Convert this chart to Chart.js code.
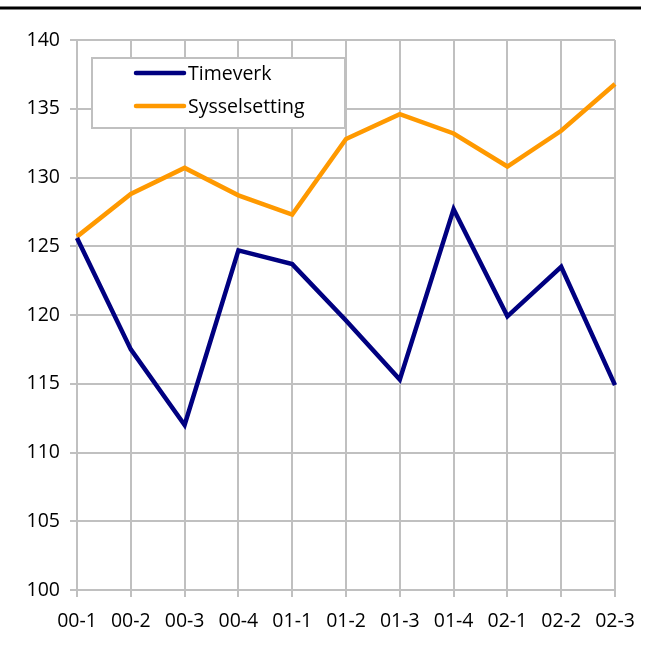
<!DOCTYPE html>
<html><head><meta charset="utf-8">
<script src="https://cdn.jsdelivr.net/npm/chart.js@4/dist/chart.umd.min.js"></script>
<style>html,body{margin:0;padding:0;background:#fff}#wrap{width:656px;height:648px}</style>
</head><body><div id="wrap"><canvas id="c" width="656" height="648"></canvas></div>
<script>
const categories = ["00-1","00-2","00-3","00-4","01-1","01-2","01-3","01-4","02-1","02-2","02-3"];
const timeverk = [125.6,117.5,112.0,124.7,123.7,119.6,115.3,127.7,119.9,123.5,114.9];
const sysselsetting = [125.7,128.8,130.7,128.7,127.3,132.8,134.6,133.2,130.8,133.4,136.8];
const seriesNames = ["Timeverk","Sysselsetting"];
const yTicks = [100,105,110,115,120,125,130,135,140];
const FONT = "'Open Sans', 'Noto Sans', sans-serif";
const FS = 19.5;

const extras = {
  id:'extras',
  beforeDraw(chart){
    const ctx = chart.ctx;
    ctx.save();
    ctx.fillStyle = '#fff';
    ctx.fillRect(0,0,chart.width,chart.height);
    ctx.strokeStyle = '#000'; ctx.lineWidth = 3;
    ctx.beginPath(); ctx.moveTo(0,8); ctx.lineTo(641,8); ctx.stroke();
    ctx.restore();
  },
  afterDraw(chart){
    const ctx = chart.ctx;
    ctx.save();
    const x0 = 92, y0 = 58, w = 253, h = 70;
    ctx.fillStyle = '#fff'; ctx.fillRect(x0,y0,w,h);
    ctx.strokeStyle = '#c0c0c0'; ctx.lineWidth = 2; ctx.strokeRect(x0,y0,w,h);
    chart.data.datasets.forEach((ds,i)=>{
      const y = 73 + i*33;
      ctx.strokeStyle = ds.borderColor; ctx.lineWidth = 4.5; ctx.lineCap='round';
      ctx.beginPath(); ctx.moveTo(136,y); ctx.lineTo(184,y); ctx.stroke();
      ctx.fillStyle = '#000'; ctx.font = FS + 'px ' + FONT; ctx.textBaseline='middle'; ctx.textAlign='left';
      ctx.fillText(ds.label, 188, y+1);
    });
    ctx.restore();
  }
};

new Chart(document.getElementById('c'), {
  type:'line',
  data:{
    labels: categories,
    datasets:[
      {label: seriesNames[0], data: timeverk, borderColor:'#000080', backgroundColor:'#000080', borderWidth:4.5, pointRadius:0, tension:0, borderJoinStyle:'miter'},
      {label: seriesNames[1], data: sysselsetting, borderColor:'#FF9900', backgroundColor:'#FF9900', borderWidth:4.5, pointRadius:0, tension:0, borderJoinStyle:'miter'}
    ]
  },
  options:{
    responsive:false, animation:false, devicePixelRatio:1,
    layout:{padding:{left:0, top:40, right:41, bottom:0}},
    plugins:{legend:{display:false}, tooltip:{enabled:false}},
    scales:{
      x:{
        offset:false,
        grid:{color:'#c0c0c0', lineWidth:2, tickLength:7, drawTicks:true},
        border:{color:'#c0c0c0', width:2},
        ticks:{color:'#000', font:{family:FONT, size:FS}, padding:13, maxRotation:0, autoSkip:false},
        afterFit(s){ s.height = 58; }
      },
      y:{
        min:100, max:140,
        afterBuildTicks(s){ s.ticks = yTicks.map(v=>({value:v})); },
        grid:{color:'#c0c0c0', lineWidth:2, tickLength:7},
        border:{color:'#c0c0c0', width:2},
        ticks:{color:'#000', font:{family:FONT, size:FS}, padding:10},
        afterFit(s){ s.width = 77; }
      }
    }
  },
  plugins:[extras]
});
</script></body></html>
